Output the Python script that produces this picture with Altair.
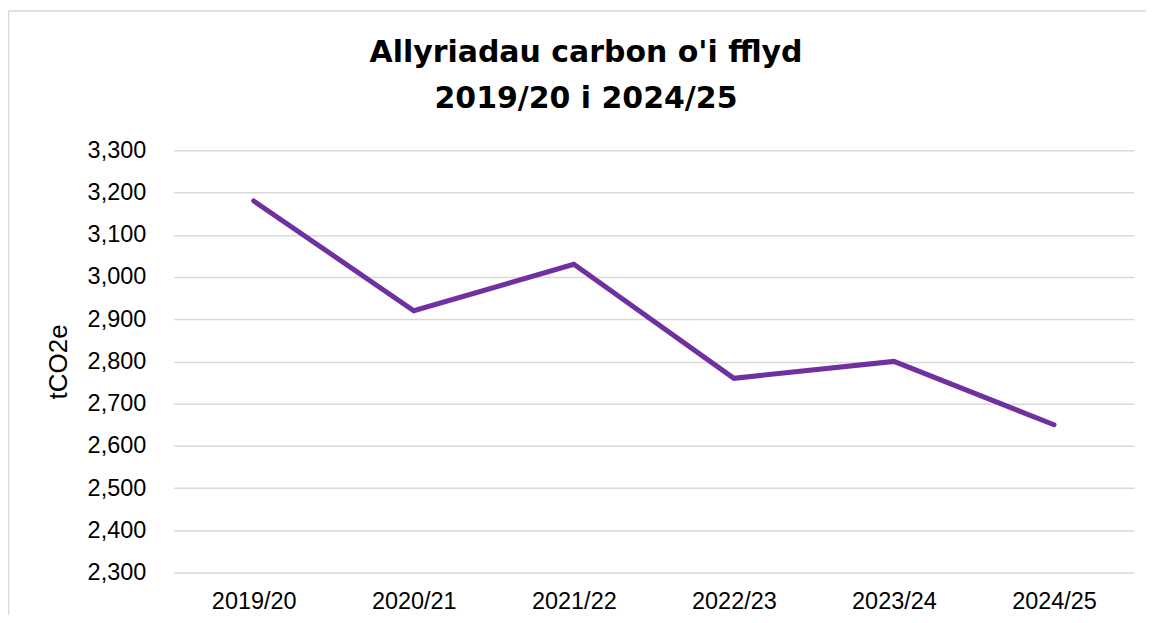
import altair as alt
import pandas as pd

years = ["2019/20", "2020/21", "2021/22", "2022/23", "2023/24", "2024/25"]
emissions = [3180, 2920, 3030, 2760, 2800, 2650]
y_ticks = [2300, 2400, 2500, 2600, 2700, 2800, 2900, 3000, 3100, 3200, 3300]
title_lines = ["Allyriadau carbon o'i fflyd", "2019/20 i 2024/25"]
y_title = "tCO2e"

df = pd.DataFrame({"Blwyddyn": years, "tCO2e": emissions})

line = alt.Chart(df).mark_line(
    color="#7030A0", strokeWidth=5, strokeCap="round"
).encode(
    x=alt.X(
        "Blwyddyn:N",
        sort=years,
        scale=alt.Scale(type="point", padding=0.5),
        axis=alt.Axis(
            title=None, labelAngle=0, ticks=False, tickSize=0, domain=False,
            grid=False, labelPadding=17, labelFontSize=23.5,
            labelFont="Liberation Sans", labelColor="#000000",
        ),
    ),
    y=alt.Y(
        "tCO2e:Q",
        scale=alt.Scale(domain=[2300, 3300], nice=False, zero=False),
        axis=alt.Axis(
            values=y_ticks, format=",.0f", title=y_title, ticks=False, tickSize=0,
            domain=False, grid=True, gridColor="#d9d9d9", gridWidth=1.5,
            labelPadding=28, labelFontSize=23.5, labelFont="Liberation Sans",
            labelColor="#000000", titleFont="Liberation Sans", titleFontSize=26,
            titleFontWeight="normal", titleColor="#000000", titlePadding=16,
        ),
    ),
)

one = pd.DataFrame({"f": [0]})
frame_top = alt.Chart(one).mark_rule(color="#d9d9d9", strokeWidth=1.5).encode(
    x=alt.value(-165.5), x2=alt.value(1300), y=alt.value(-139.5)
)
frame_left = alt.Chart(one).mark_rule(color="#d9d9d9", strokeWidth=1.5).encode(
    x=alt.value(-165.5), y=alt.value(-139.5), y2=alt.value(800)
)

chart = alt.layer(frame_top, frame_left, line).properties(
    width=962,
    height=423,
    padding={"left": 166, "top": 142, "right": 12, "bottom": 42},
    autosize=alt.AutoSizeParams(type="none"),
    background="white",
    title=alt.TitleParams(
        text=title_lines, font="DejaVu Sans", fontSize=30, fontWeight="bold",
        color="#000000", anchor="middle", frame="group", dx=-68, dy=139,
        offset=35, lineHeight=46,
    ),
).configure_view(stroke=None)

chart.save("out.html", embed_options={"renderer": "svg", "actions": False})
